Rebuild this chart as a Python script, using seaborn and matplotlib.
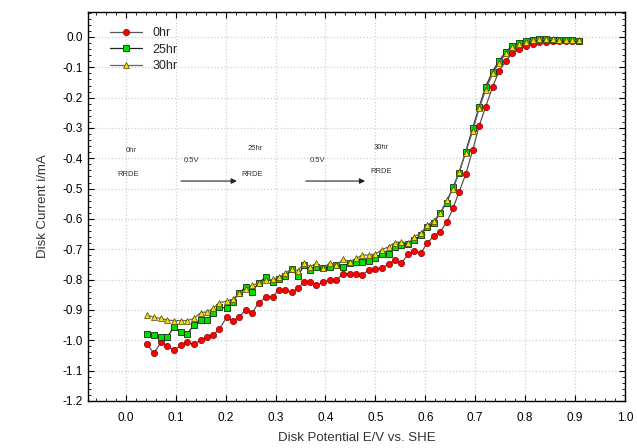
import matplotlib
matplotlib.use('Agg')
import matplotlib.pyplot as plt
import pandas as pd
import seaborn as sns
from matplotlib.ticker import MultipleLocator, AutoMinorLocator

# 盘电位 (V vs. SHE)，三条曲线共用同一组采样点
potential = [0.043, 0.056, 0.071, 0.083, 0.096, 0.110, 0.123, 0.136, 0.150, 0.163,
             0.175, 0.187, 0.202, 0.214, 0.227, 0.240, 0.253, 0.266, 0.281, 0.294,
             0.307, 0.319, 0.332, 0.345, 0.357, 0.370, 0.382, 0.395, 0.409, 0.422,
             0.435, 0.449, 0.461, 0.474, 0.487, 0.500, 0.513, 0.527, 0.539, 0.552,
             0.566, 0.578, 0.591, 0.604, 0.617, 0.630, 0.643, 0.656, 0.668, 0.681,
             0.695, 0.708, 0.721, 0.735, 0.748, 0.762, 0.774, 0.788, 0.801, 0.815,
             0.828, 0.842, 0.855, 0.868, 0.882, 0.895, 0.909]

# 盘电流 (mA)
current_0hr = [-1.013, -1.043, -1.005, -1.019, -1.032, -1.017, -1.007, -1.013, -0.999, -0.990,
               -0.983, -0.964, -0.924, -0.936, -0.924, -0.900, -0.911, -0.876, -0.858, -0.856,
               -0.834, -0.834, -0.842, -0.829, -0.809, -0.809, -0.818, -0.809, -0.801, -0.801,
               -0.782, -0.781, -0.781, -0.785, -0.768, -0.766, -0.762, -0.748, -0.735, -0.746,
               -0.716, -0.707, -0.712, -0.680, -0.656, -0.642, -0.611, -0.563, -0.510, -0.453,
               -0.373, -0.293, -0.230, -0.164, -0.112, -0.078, -0.054, -0.040, -0.030, -0.022,
               -0.017, -0.015, -0.013, -0.012, -0.012, -0.012, -0.012]

current_25hr = [-0.980, -0.983, -0.990, -0.990, -0.957, -0.972, -0.980, -0.950, -0.933, -0.933,
                -0.909, -0.891, -0.894, -0.873, -0.843, -0.825, -0.840, -0.810, -0.792, -0.807,
                -0.799, -0.788, -0.766, -0.788, -0.752, -0.768, -0.757, -0.763, -0.757, -0.752,
                -0.757, -0.744, -0.741, -0.741, -0.738, -0.730, -0.715, -0.715, -0.691, -0.686,
                -0.682, -0.669, -0.653, -0.625, -0.614, -0.579, -0.546, -0.493, -0.447, -0.378,
                -0.301, -0.231, -0.164, -0.114, -0.078, -0.048, -0.030, -0.021, -0.012, -0.010,
                -0.008, -0.008, -0.009, -0.010, -0.010, -0.011, -0.012]

current_30hr = [-0.917, -0.924, -0.928, -0.933, -0.935, -0.935, -0.935, -0.928, -0.909, -0.906,
                -0.895, -0.876, -0.871, -0.865, -0.845, -0.832, -0.818, -0.812, -0.801, -0.799,
                -0.791, -0.778, -0.766, -0.770, -0.746, -0.757, -0.746, -0.763, -0.744, -0.752,
                -0.733, -0.741, -0.730, -0.719, -0.719, -0.715, -0.702, -0.691, -0.678, -0.675,
                -0.680, -0.658, -0.647, -0.620, -0.606, -0.581, -0.537, -0.501, -0.444, -0.381,
                -0.310, -0.235, -0.175, -0.120, -0.085, -0.054, -0.032, -0.024, -0.015, -0.010,
                -0.008, -0.007, -0.008, -0.009, -0.010, -0.010, -0.011]

labels = ['0hr', '25hr', '30hr']
x_ticks = [0.0, 0.1, 0.2, 0.3, 0.4, 0.5, 0.6, 0.7, 0.8, 0.9, 1.0]
y_ticks = [0.0, -0.1, -0.2, -0.3, -0.4, -0.5, -0.6, -0.7, -0.8, -0.9, -1.0, -1.1, -1.2]

sns.set_style('ticks')
plt.rcParams['font.family'] = ['Liberation Sans', 'DejaVu Sans']

fig = plt.figure(figsize=(6.37, 4.48), dpi=100)
ax = fig.add_axes([0.138, 0.105, 0.843, 0.868])

df = pd.DataFrame({'E': potential, '0hr': current_0hr, '25hr': current_25hr, '30hr': current_30hr})

# 三条曲线：灰色连线 + 彩色标记
sns.lineplot(data=df, x='E', y='0hr', ax=ax, color='#555555', lw=0.9, marker='o', ms=4.5,
             markerfacecolor='#ff0000', markeredgecolor='#8b0000', markeredgewidth=0.5, label=labels[0])
sns.lineplot(data=df, x='E', y='25hr', ax=ax, color='#222222', lw=0.9, marker='s', ms=4.5,
             markerfacecolor='#00dd00', markeredgecolor='#103010', markeredgewidth=0.6, label=labels[1])
sns.lineplot(data=df, x='E', y='30hr', ax=ax, color='#666666', lw=0.9, marker='^', ms=4.5,
             markerfacecolor='#f0e000', markeredgecolor='#554400', markeredgewidth=0.5, label=labels[2])

ax.set_xlim(-0.076, 1.0)
ax.set_ylim(-1.2, 0.082)
ax.set_xticks(x_ticks)
ax.set_yticks(y_ticks)
ax.set_xticklabels([f'{v:.1f}' for v in x_ticks])
ax.set_yticklabels([f'{v:.1f}' for v in y_ticks])
ax.xaxis.set_minor_locator(MultipleLocator(0.02))
ax.yaxis.set_minor_locator(MultipleLocator(0.02))
ax.tick_params(which='both', direction='in', top=True, right=True, labelsize=8.5, colors='black')
ax.tick_params(which='major', length=4, width=0.8)
ax.tick_params(which='minor', length=2, width=0.6)
ax.tick_params(axis='x', pad=8)
ax.grid(True, which='major', linestyle=':', color='#c8d0d8', lw=0.9)
for s in ax.spines.values():
    s.set_color('black')
    s.set_linewidth(1.0)

ax.set_xlabel('Disk Potential E/V vs. SHE', fontsize=9.5, color='#333333', labelpad=6)
ax.set_ylabel('Disk Current i/mA', fontsize=9.5, color='#333333', labelpad=10)

leg = ax.legend(loc='upper left', bbox_to_anchor=(0.02, 0.99), frameon=False, fontsize=9,
                handlelength=2.6, labelspacing=0.35, handletextpad=0.8)

# 图中标注
fs = 5.5
ax.text(0.011, -0.375, '0hr', fontsize=fs, ha='center', va='center', color='#333333')
ax.text(0.005, -0.455, 'RRDE', fontsize=fs, ha='center', va='center', color='#333333')
ax.text(0.132, -0.406, '0.5V', fontsize=fs, ha='center', va='center', color='#333333')
ax.annotate('', xy=(0.228, -0.475), xytext=(0.105, -0.475),
            arrowprops=dict(arrowstyle='-|>', color='#222222', lw=0.8, mutation_scale=8))
ax.text(0.259, -0.367, '25hr', fontsize=fs, ha='center', va='center', color='#333333')
ax.text(0.254, -0.455, 'RRDE', fontsize=fs, ha='center', va='center', color='#333333')
ax.text(0.385, -0.406, '0.5V', fontsize=fs, ha='center', va='center', color='#333333')
ax.annotate('', xy=(0.485, -0.475), xytext=(0.355, -0.475),
            arrowprops=dict(arrowstyle='-|>', color='#222222', lw=0.8, mutation_scale=8))
ax.text(0.512, -0.364, '30hr', fontsize=fs, ha='center', va='center', color='#333333')
ax.text(0.512, -0.444, 'RRDE', fontsize=fs, ha='center', va='center', color='#333333')

fig.savefig('out.png', dpi=100)
